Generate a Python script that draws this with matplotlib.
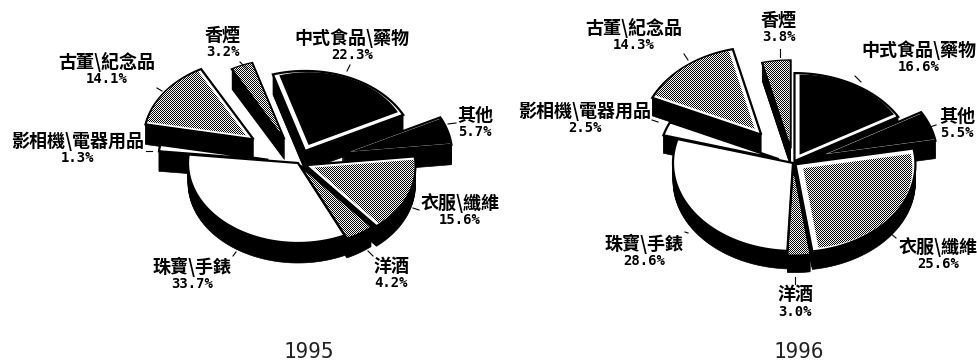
import numpy as np
import matplotlib
matplotlib.use("Agg")
import matplotlib.pyplot as plt
from matplotlib.patches import Polygon

plt.rcParams['font.family'] = ['Noto Sans CJK TC', 'DejaVu Sans']

# same order round the pie, clockwise
categories = ['中式食品\\藥物', '其他', '衣服\\纖維', '洋酒', '珠寶\\手錶',
              '影相機\\電器用品', '古董\\紀念品', '香煙']
shares_1995 = [22.3, 5.7, 15.6, 4.2, 33.7, 1.3, 14.1, 3.2]
shares_1996 = [16.6, 5.5, 25.6, 3.0, 28.6, 2.5, 14.3, 3.8]
explode_1995 = [18, 46, 8, 4, 0, 30, 55, 35]
explode_1996 = [3, 26, 3, 5, 0, 15, 50, 20]
fills = ['black', 'black', 'dither', 'dither', 'white', 'white', 'dither', 'dither']

# label x, label y, leader from, leader to
labels_1995 = [(352, 38, (347, 71), (350, 65)), (475, 115, (448, 124), (456, 123)),
               (460, 203, (413, 208), (419, 210)), (391, 266, (368, 251), (373, 256)),
               (192, 267, (236, 252), (233, 256)), (78, 141, (146, 151), (152, 151)),
               (107, 62, (157, 88), (162, 91)), (223, 35, (240, 62), (247, 69))]
labels_1996 = [(919, 50, (861, 82), (855, 76)), (957, 116, (930, 127), (936, 125)),
               (938, 247, (890, 233), (896, 238)), (795, 295, (795, 277), (795, 284)),
               (644, 244, (688, 233), (685, 232)), (585, 111, (652, 120), (658, 122)),
               (634, 28, (684, 54), (688, 60)), (779, 20, (780, 49), (780, 57))]


def wedge_points(tip, start, end, rx, ry, shrink=0.0):
    # angles in degrees, clockwise from the top of the pie
    angles = np.radians(np.linspace(start, end, 60))
    xs = rx * np.sin(angles)
    ys = -ry * np.cos(angles)
    pts = np.vstack([[0, 0], np.column_stack([xs, ys])])
    if shrink:
        mid = pts.mean(axis=0)
        pts = mid + (pts - mid) * (1 - shrink)
    return pts + tip


def draw_pie(ax, center, rx, ry, depth, shares, explode, first, labels):
    shares = np.array(shares)
    sweep = shares / shares.sum() * 360
    starts = first + np.concatenate([[0], np.cumsum(sweep)[:-1]])
    mids = starts + sweep / 2
    order = np.argsort(-np.cos(np.radians(mids)))

    ny, nx = 361, 978
    yy, xx = np.mgrid[0:ny, 0:nx]
    checker = ((xx + yy) % 2).astype(float)

    tips = {}
    for i in order:
        a = np.radians(mids[i])
        tips[i] = np.array(center) + explode[i] * np.array([np.sin(a), -np.cos(a) * ry / rx])
        pts = wedge_points(tips[i], starts[i], starts[i] + sweep[i], rx, ry)
        # side wall: same slice pushed down a pixel at a time
        for d in range(1, depth + 1):
            ax.add_patch(Polygon(pts + [0, d], closed=True, fc='black', ec='black', lw=0.5, zorder=2))

    # tops go over every wall
    z = 3
    for i in order:
        pts = wedge_points(tips[i], starts[i], starts[i] + sweep[i], rx, ry)
        ax.add_patch(Polygon(pts, closed=True, fc='white', ec='black', lw=1.6, zorder=z))
        z += 1
        inner = wedge_points(tips[i], starts[i], starts[i] + sweep[i], rx, ry, shrink=0.09)
        if fills[i] == 'black':
            ax.add_patch(Polygon(inner, closed=True, fc='black', ec='none', zorder=z))
        elif fills[i] == 'dither':
            clip = Polygon(inner, closed=True, transform=ax.transData)
            im = ax.imshow(checker, cmap='gray', vmin=0, vmax=1, extent=(0, nx, ny, 0),
                           interpolation='nearest', aspect='auto', zorder=z)
            im.set_clip_path(clip)
        z += 1

    for i, (lx, ly, p0, p1) in enumerate(labels):
        ax.text(lx, ly, categories[i], ha='center', va='center', fontsize=13,
                fontweight='bold', color='black', zorder=100)
        ax.text(lx, ly + 17, f'{shares[i]:.1f}%', ha='center', va='center', fontsize=10,
                family='DejaVu Sans Mono', fontweight='bold', color='black', zorder=100)
        ax.plot([p0[0], p1[0]], [p0[1], p1[1]], color='black', lw=0.8, zorder=100)


fig = plt.figure(figsize=(9.78, 3.61), dpi=100)
ax = fig.add_axes([0, 0, 1, 1])

draw_pie(ax, (298, 163), 110, 80, 20, shares_1995, explode_1995, -17, labels_1995)
draw_pie(ax, (793, 163), 120, 88, 18, shares_1996, explode_1996, 0, labels_1996)

ax.text(309, 358, '1995', ha='center', va='baseline', fontsize=15, family='DejaVu Sans Mono', color='#222222')
ax.text(799, 358, '1996', ha='center', va='baseline', fontsize=15, family='DejaVu Sans Mono', color='#222222')

ax.set_xlim(0, 978)
ax.set_ylim(361, 0)
ax.axis('off')

fig.savefig('out.png', dpi=100)
